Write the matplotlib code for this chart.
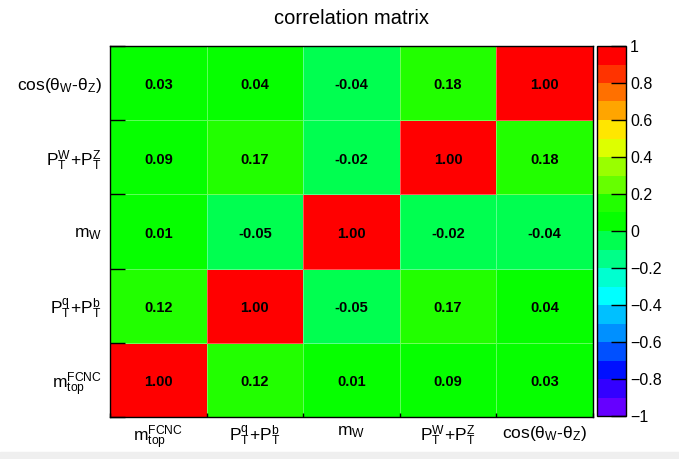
import numpy as np
import matplotlib
matplotlib.use("Agg")
import matplotlib.pyplot as plt
from matplotlib.colors import ListedColormap, BoundaryNorm
from matplotlib.patches import Rectangle

plt.rcParams['font.family'] = ['Liberation Sans', 'DejaVu Sans']
plt.rcParams['mathtext.fontset'] = 'custom'
plt.rcParams['mathtext.rm'] = 'Liberation Sans'
plt.rcParams['mathtext.it'] = 'Liberation Sans'
plt.rcParams['mathtext.bf'] = 'Liberation Sans:bold'

variables = [r"$\mathrm{m_{top}^{FCNC}}$", r"$\mathrm{P_T^q\!+\!P_T^b}$", r"$\mathrm{m_W}$",
             r"$\mathrm{P_T^W\!+\!P_T^Z}$", r"$\mathrm{cos(\theta_W\text{-}\theta_Z)}$"]

row_mtop = [1.00, 0.12, 0.01, 0.09, 0.03]
row_ptqb = [0.12, 1.00, -0.05, 0.17, 0.04]
row_mw   = [0.01, -0.05, 1.00, -0.02, -0.04]
row_ptwz = [0.09, 0.17, -0.02, 1.00, 0.18]
row_cos  = [0.03, 0.04, -0.04, 0.18, 1.00]
matrix = np.array([row_mtop, row_ptqb, row_mw, row_ptwz, row_cos])

palette = ['#6600ff', '#3300ff', '#0010ff', '#0050ff', '#0090ff', '#00c0ff', '#00ffff',
           '#00ffd0', '#00ff88', '#00ff50', '#06ff00', '#22ff00', '#66ff00', '#99ff00',
           '#ddff00', '#ffe600', '#ffa500', '#ff7000', '#ff3300', '#ff0000']
bounds = np.linspace(-1, 1, 21)
cmap = ListedColormap(palette)
norm = BoundaryNorm(bounds, cmap.N)

W, H = 679, 459
fig = plt.figure(figsize=(W / 100, H / 100), dpi=100)
fig.patches.append(Rectangle((0, 0), 1, 7 / H, transform=fig.transFigure,
                             color='#efefef', zorder=-1))

ax = fig.add_axes([110 / W, 42 / H, 483 / W, 371 / H])
n = len(variables)
ax.pcolormesh(np.arange(n + 1), np.arange(n + 1), matrix, cmap=cmap, norm=norm,
              edgecolors=(1, 1, 1, 0.35), linewidth=0.6)
for i in range(n):
    for j in range(n):
        ax.text(j + 0.5, i + 0.47, f"{matrix[i, j]:.2f}", ha='center', va='center',
                fontsize=10.5, fontweight='bold', color='black')

ax.set_xlim(0, n)
ax.set_ylim(0, n)
ax.set_xticks(np.arange(n + 1))
ax.set_yticks(np.arange(n + 1))
ax.set_xticklabels([])
ax.set_yticklabels([])
ax.set_xticks(np.arange(n) + 0.5, minor=True)
ax.set_yticks(np.arange(n) + 0.5, minor=True)
ax.set_xticklabels(variables, minor=True, fontsize=12.5)
ax.set_yticklabels(variables, minor=True, fontsize=12.5)
ax.tick_params(axis='x', which='major', direction='in', length=3, width=1)
ax.tick_params(axis='y', which='major', direction='in', length=11, width=1)
ax.tick_params(axis='x', which='minor', length=0, pad=5)
ax.tick_params(axis='y', which='minor', length=0, pad=6)
for s in ax.spines.values():
    s.set_linewidth(1)

fig.text((110 + 593) / 2 / W, 1 - 19 / H, "correlation matrix", ha='center', va='center',
         fontsize=14.5)

cax = fig.add_axes([597 / W, 43 / H, 29 / W, 370 / H])
cb = fig.colorbar(plt.cm.ScalarMappable(norm=norm, cmap=cmap), cax=cax,
                  boundaries=bounds, ticks=np.linspace(-1, 1, 11))
cb.outline.set_linewidth(1)
cb.ax.set_yticklabels(['\u22121', '\u22120.8', '\u22120.6', '\u22120.4', '\u22120.2', '0',
                       '0.2', '0.4', '0.6', '0.8', '1'])
cb.ax.tick_params(direction='in', length=11, width=1, labelsize=11.5, pad=3)
cb.ax.minorticks_off()

fig.savefig("out.png", dpi=100)
